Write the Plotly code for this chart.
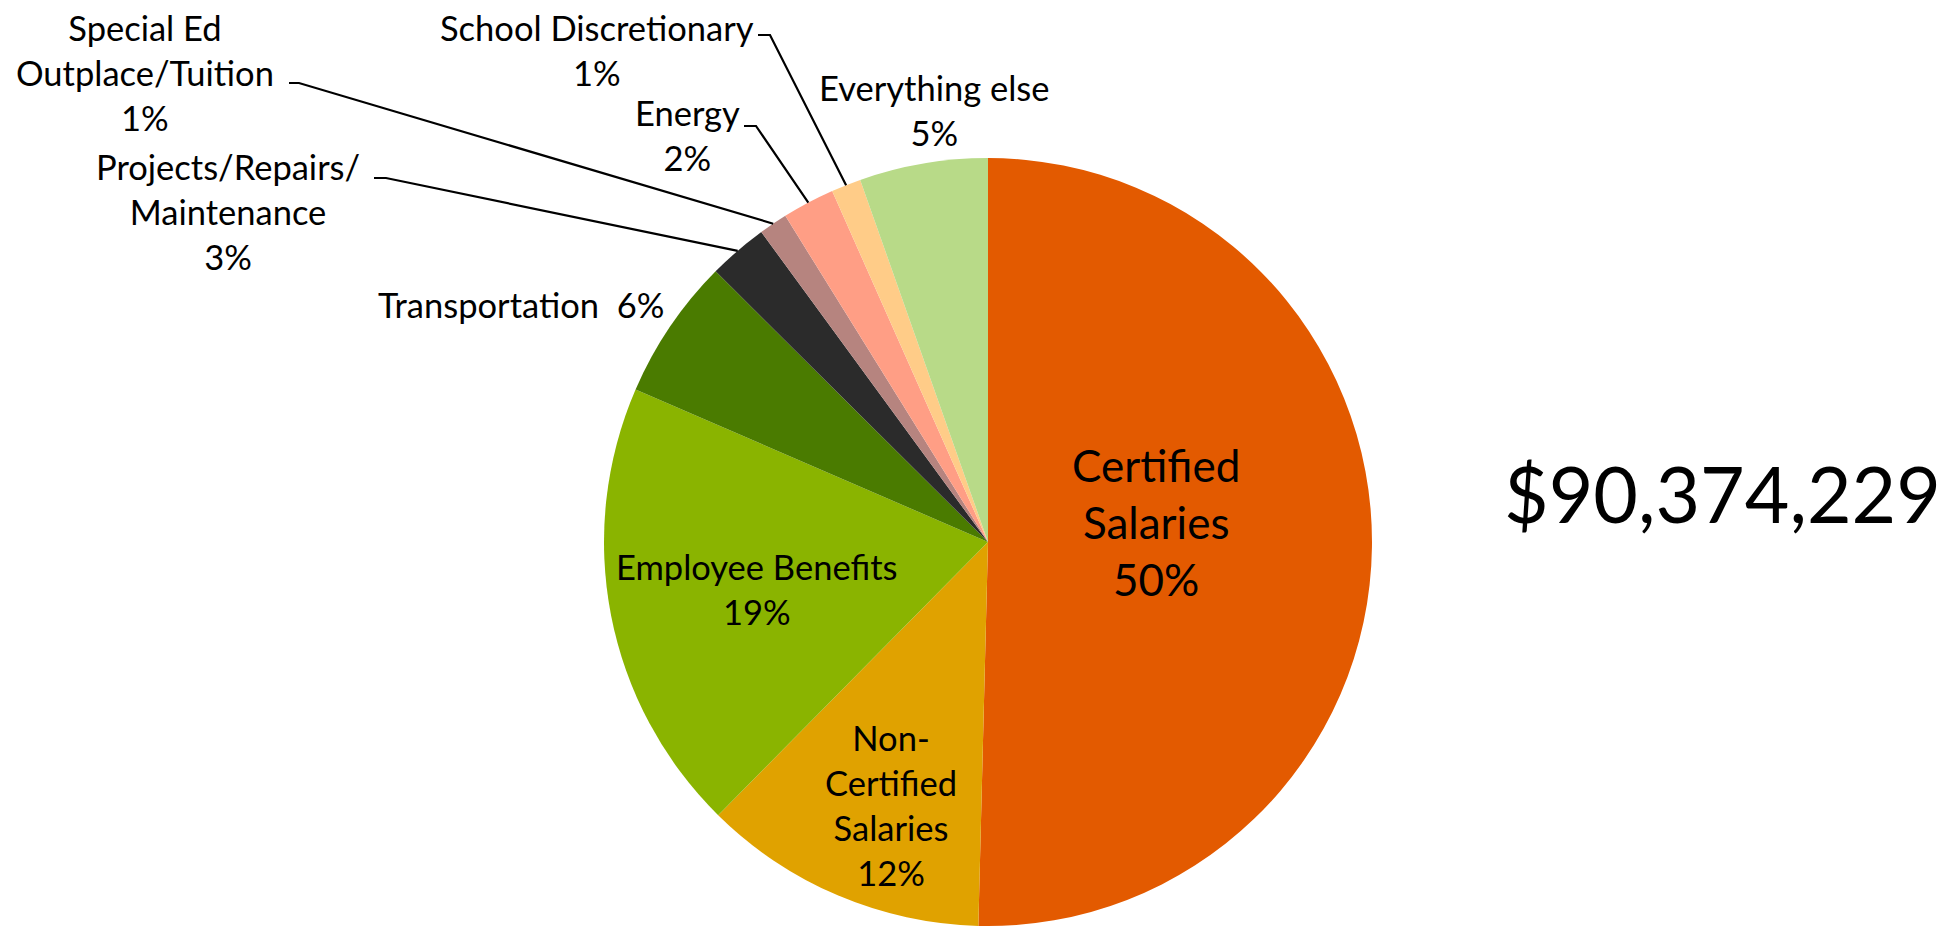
import math
import plotly.graph_objects as go

# ---- data ----
categories = ["Certified Salaries", "Non-Certified Salaries", "Employee Benefits",
              "Transportation", "Projects/Repairs/Maintenance", "Special Ed Outplace/Tuition",
              "Energy", "School Discretionary", "Everything else"]
shares = [50.4, 12.0, 19.1, 5.95, 2.5, 1.2, 2.2, 1.25, 5.4]
label_text = ["Certified<br>Salaries<br>50%",
              "Non-<br>Certified<br>Salaries<br>12%",
              "Employee Benefits<br>19%",
              "Transportation\u00a0 6%",
              "Projects/Repairs/<br>Maintenance<br>3%",
              "Special Ed<br>Outplace/Tuition<br>1%",
              "Energy<br>2%",
              "School Discretionary<br>1%",
              "Everything else<br>5%"]
total_text = "$90,374,229"

colors = ["#E35A00", "#E0A200", "#8AB400", "#4A7B00", "#2B2B2B",
          "#B6847F", "#FF9E85", "#FFCC88", "#B8DA88"]

# ---- layout geometry (page pixels; the html body adds an 8px margin) ----
W, H = 1954, 926
PM = 8
CX, CY, R = 988 - PM, 542 - PM, 384
FONT = "Lato"

# label placement in page pixels: (x centre, y middle, font size), per category
label_pos = [(1156, 522, 44), (891, 805, 34.5), (757, 589, 34.5), (521, 304, 34.5),
             (228, 211, 34.5), (145, 72, 34.5), (687, 135, 34.5), (597, 50, 34.5), (934, 110, 34.5)]
# leader tick start (x0, x1, y) in page pixels
leader_ticks = {4: (374, 386, 178), 5: (289, 299, 83), 6: (744, 756, 126), 7: (758, 770, 35)}

fig = go.Figure()
fig.add_trace(go.Pie(
    labels=categories, values=shares, sort=False, direction="clockwise", rotation=0,
    marker=dict(colors=colors, line=dict(width=0)),
    textinfo="none", hoverinfo="label+percent", showlegend=False,
    domain=dict(x=[(CX - R) / W, (CX + R) / W], y=[(H - CY - R) / H, (H - CY + R) / H]),
))

# leader lines: from tick to the pie edge at slice mid-angle
tot = sum(shares)
cum = 0.0
mids = []
for v in shares:
    mids.append((cum + v / 2) / tot)
    cum += v

shapes = []
for i, (x0, x1, y) in leader_ticks.items():
    a = 2 * math.pi * mids[i]
    ex = CX + R * math.sin(a)
    ey = CY - R * math.cos(a)
    shapes.append(dict(type="path", xref="x", yref="y",
                       path=f"M {x0 - PM} {y - PM} L {x1 - PM} {y - PM} L {ex:.1f} {ey:.1f}",
                       line=dict(color="black", width=2.2)))

annotations = []
for t, (x, y, s) in zip(label_text, label_pos):
    annotations.append(dict(x=x - PM, y=y - PM, xref="x", yref="y", text=t, showarrow=False,
                            xanchor="center", yanchor="middle", align="center",
                            font=dict(family=FONT, size=s, color="black")))
annotations.append(dict(x=1722 - PM, y=493 - PM, xref="x", yref="y", text=total_text,
                        showarrow=False, xanchor="center", yanchor="middle",
                        font=dict(family=FONT, size=77, color="black")))

fig.update_layout(
    width=W, height=H, margin=dict(l=0, r=0, t=0, b=0),
    paper_bgcolor="white", plot_bgcolor="rgba(0,0,0,0)",
    xaxis=dict(range=[0, W], visible=False, fixedrange=True, domain=[0, 1]),
    yaxis=dict(range=[H, 0], visible=False, fixedrange=True, domain=[0, 1]),
    shapes=shapes, annotations=annotations,
)
fig.write_html("out.html")
